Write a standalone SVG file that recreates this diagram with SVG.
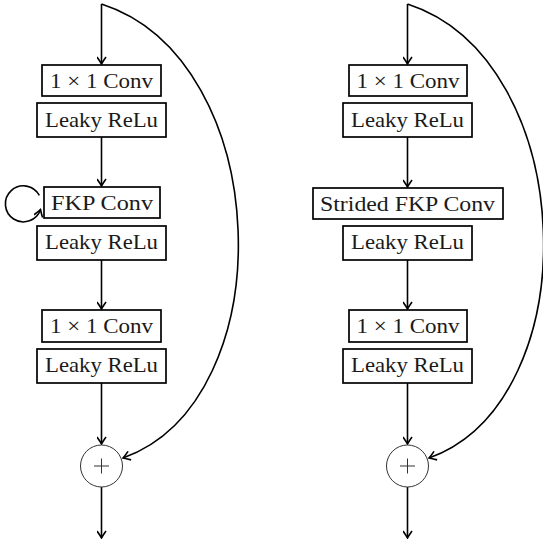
<svg xmlns="http://www.w3.org/2000/svg" width="543" height="542" viewBox="0 0 543 542">
  <defs>
    <marker id="arr" viewBox="-8 -5 9 10" refX="0" refY="0" markerWidth="9" markerHeight="10" markerUnits="userSpaceOnUse" orient="auto">
      <path d="M -7 -4.5 Q -2.5 -1.3 0 0 Q -2.5 1.3 -7 4.5" fill="none" stroke="#000" stroke-width="1.6"/>
    </marker>
  </defs>
  <style>
    .box { fill: #fff; stroke: #000; stroke-width: 1.7; }
    .lbl { font-family: "Liberation Serif", "DejaVu Serif", serif; font-size: 22px; text-anchor: middle; fill: #1a1a1a; }
    .edge { fill: none; stroke: #000; stroke-width: 1.6; marker-end: url(#arr); }
    .sum { fill: #fff; stroke: #333; stroke-width: 1; }
    .plus { stroke: #333; stroke-width: 1; }
  </style>

  <!-- connectors -->
  <g id="connectors">
    <!-- left block -->
    <path class="edge" d="M 101.5 4 L 101.5 64"/>
    <path class="edge" d="M 101.5 137 L 101.5 186"/>
    <path class="edge" d="M 101.5 260 L 101.5 309"/>
    <path class="edge" d="M 101.5 383 L 101.5 444"/>
    <path class="edge" d="M 101.5 487 L 101.5 538"/>
    <path class="edge" d="M 101.5 4 C 275 60 285 400 123 458"/>
    <path class="edge" d="M 39.3 195.4 A 18 18 0 1 0 40.5 209.5"/>
    <!-- right block -->
    <path class="edge" d="M 407.5 4 L 407.5 64"/>
    <path class="edge" d="M 407.5 137 L 407.5 187"/>
    <path class="edge" d="M 407.5 260 L 407.5 309"/>
    <path class="edge" d="M 407.5 383 L 407.5 444"/>
    <path class="edge" d="M 407.5 487 L 407.5 538"/>
    <path class="edge" d="M 407.5 4 C 580 60 590 400 429 458"/>
  </g>

  <!-- left block nodes -->
  <g id="l-conv1">
    <rect class="box" x="42" y="65" width="119" height="31"/>
    <text class="lbl" x="101.5" y="88" textLength="103" lengthAdjust="spacingAndGlyphs">1 × 1 Conv</text>
  </g>
  <g id="l-relu1">
    <rect class="box" x="37" y="103" width="129" height="34"/>
    <text class="lbl" x="101.5" y="127" textLength="113" lengthAdjust="spacingAndGlyphs">Leaky ReLu</text>
  </g>
  <g id="l-fkp">
    <rect class="box" x="44" y="187" width="116" height="31"/>
    <text class="lbl" x="102" y="210" textLength="102" lengthAdjust="spacingAndGlyphs">FKP Conv</text>
  </g>
  <g id="l-relu2">
    <rect class="box" x="37" y="226" width="129" height="34"/>
    <text class="lbl" x="101.5" y="249" textLength="113" lengthAdjust="spacingAndGlyphs">Leaky ReLu</text>
  </g>
  <g id="l-conv2">
    <rect class="box" x="42" y="310" width="119" height="32"/>
    <text class="lbl" x="101.5" y="333" textLength="103" lengthAdjust="spacingAndGlyphs">1 × 1 Conv</text>
  </g>
  <g id="l-relu3">
    <rect class="box" x="37" y="349" width="129" height="34"/>
    <text class="lbl" x="101.5" y="372" textLength="113" lengthAdjust="spacingAndGlyphs">Leaky ReLu</text>
  </g>
  <g id="l-sum">
    <circle class="sum" cx="101.5" cy="466" r="21"/>
    <path class="plus" d="M 94 466 H 109 M 101.5 458.5 V 473.5"/>
  </g>

  <!-- right block nodes -->
  <g id="r-conv1">
    <rect class="box" x="349" y="65" width="118" height="31"/>
    <text class="lbl" x="408" y="88" textLength="103" lengthAdjust="spacingAndGlyphs">1 × 1 Conv</text>
  </g>
  <g id="r-relu1">
    <rect class="box" x="343" y="103" width="129" height="34"/>
    <text class="lbl" x="407.5" y="127" textLength="113" lengthAdjust="spacingAndGlyphs">Leaky ReLu</text>
  </g>
  <g id="r-fkp">
    <rect class="box" x="313" y="188" width="190" height="31"/>
    <text class="lbl" x="407.5" y="211" textLength="175" lengthAdjust="spacingAndGlyphs">Strided FKP Conv</text>
  </g>
  <g id="r-relu2">
    <rect class="box" x="343" y="226" width="129" height="34"/>
    <text class="lbl" x="407.5" y="249" textLength="113" lengthAdjust="spacingAndGlyphs">Leaky ReLu</text>
  </g>
  <g id="r-conv2">
    <rect class="box" x="349" y="310" width="118" height="32"/>
    <text class="lbl" x="408" y="333" textLength="103" lengthAdjust="spacingAndGlyphs">1 × 1 Conv</text>
  </g>
  <g id="r-relu3">
    <rect class="box" x="343" y="349" width="129" height="34"/>
    <text class="lbl" x="407.5" y="372" textLength="113" lengthAdjust="spacingAndGlyphs">Leaky ReLu</text>
  </g>
  <g id="r-sum">
    <circle class="sum" cx="407.5" cy="466" r="21"/>
    <path class="plus" d="M 400 466 H 415 M 407.5 458.5 V 473.5"/>
  </g>
</svg>
